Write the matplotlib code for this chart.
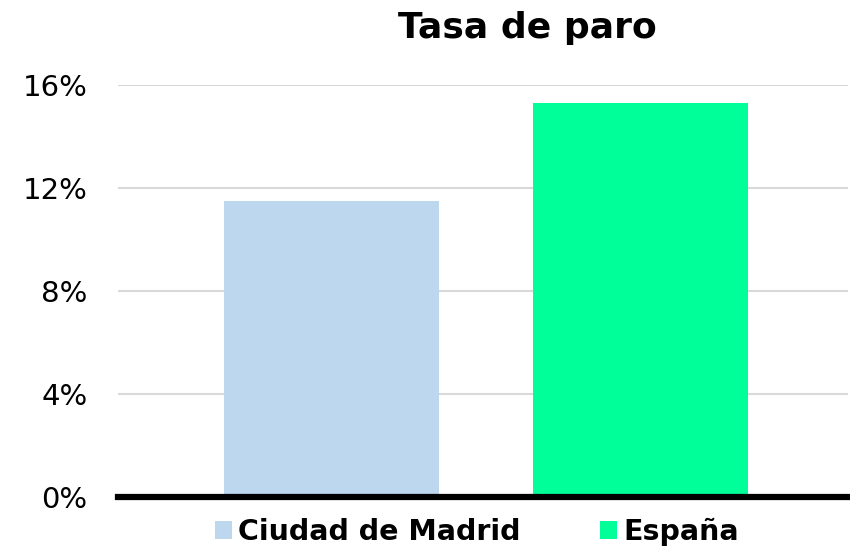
import matplotlib.pyplot as plt
from matplotlib.ticker import FuncFormatter

series = ["Ciudad de Madrid", "España"]
values = [11.5, 15.3]
colors = ["#bdd7ee", "#00ff99"]
yticks = [0, 4, 8, 12, 16]

plt.rcParams["font.family"] = "DejaVu Sans"

fig = plt.figure(figsize=(8.5, 5.49), dpi=100)
ax = fig.add_axes([118 / 850, 52 / 549, 730 / 850, (497 - 85) / 549])

offsets = [-0.2075, 0.2158]
width = 0.2945
for off, v, c, name in zip(offsets, values, colors, series):
    ax.bar(off, v, width=width, color=c, label=name, zorder=2)

ax.set_xlim(-0.5, 0.5)
ax.set_ylim(0, 16)
ax.set_yticks(yticks)
ax.yaxis.set_major_formatter(FuncFormatter(lambda v, p: f"{v:.0f}%"))
ax.set_xticks([])
ax.grid(axis="y", color="#d9d9d9", linewidth=1.5, zorder=0)
for s in ["top", "right", "left"]:
    ax.spines[s].set_visible(False)
ax.spines["bottom"].set_linewidth(4.5)
ax.spines["bottom"].set_color("black")
ax.spines["bottom"].set_zorder(3)
ax.tick_params(axis="y", length=0, labelsize=21, pad=22)

fig.text(527 / 850, 1 - 28 / 549, "Tasa de paro", ha="center", va="center",
         fontsize=26, fontweight="bold")

fig.legend(loc="center", bbox_to_anchor=(477 / 850, 1 - 532 / 549), ncol=2,
           frameon=False, handlelength=0.6, handleheight=0.55, handletextpad=0.2,
           columnspacing=2.8,
           prop={"weight": "bold", "size": 20.5})

fig.savefig("out.png", dpi=100)
